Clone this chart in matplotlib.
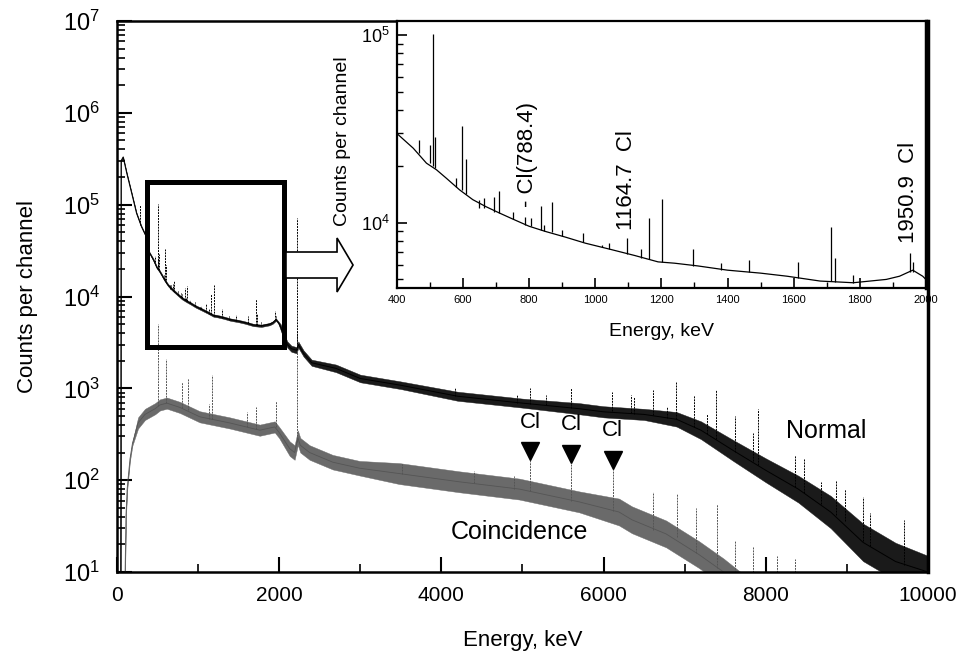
import numpy as np
import matplotlib
matplotlib.use('Agg')
import matplotlib.pyplot as plt
from matplotlib.patches import Rectangle, FancyArrow
from matplotlib.ticker import FixedLocator, LogLocator, NullFormatter

plt.rcParams['font.family'] = ['Liberation Sans', 'DejaVu Sans']
plt.rcParams['mathtext.default'] = 'regular'

# ---- Normal spectrum: continuum (keV, counts/channel) and band spread factor
normal_E = [45, 50, 75, 120, 180, 240, 300, 370, 400,
            450, 490, 520, 550, 590, 630, 670, 710, 750,
            800, 850, 910, 970, 1050, 1120, 1190, 1240, 1310,
            1400, 1500, 1580, 1680, 1780, 1880, 1920, 1960, 1990,
            2020, 2060, 2100, 2150, 2215, 2235, 2300, 2400, 2700,
            3000, 3500, 4200, 5000, 5700, 6000, 6500, 6900, 7200,
            7600, 8000, 8400, 8800, 9200, 9600, 10000]
normal_counts = [10, 3.0e5, 3.3e5, 2.2e5, 1.34e5, 8.1e4, 5.8e4, 4.3e4, 3.0e4,
                 2.5e4, 2.08e4, 1.92e4, 1.73e4, 1.5e4, 1.33e4, 1.22e4, 1.13e4, 1.05e4,
                 9.6e3, 9.0e3, 8.4e3, 7.8e3, 7.2e3, 6.7e3, 6.2e3, 6.1e3, 5.9e3,
                 5.6e3, 5.4e3, 5.2e3, 4.9e3, 4.8e3, 5.0e3, 5.2e3, 5.6e3, 5.2e3,
                 4.6e3, 3.6e3, 3.0e3, 2.7e3, 2.6e3, 3.0e3, 2.4e3, 1.9e3, 1.65e3,
                 1.28e3, 1.08e3, 820, 690, 600, 555, 520, 460, 350,
                 210, 128, 80, 45, 21, 13, 10]
normal_spread = [1.02] * 9 + [1.03] * 27 + [1.08] * 8 + \
                [1.1, 1.1, 1.1, 1.12, 1.12, 1.15, 1.15, 1.15, 1.2, 1.25,
                 1.3, 1.35, 1.4, 1.5, 1.6, 1.6, 1.5]

# Normal spectrum peaks: energy, peak top, continuum under the peak
normal_peak_E = [283, 467, 501, 511, 517, 579, 597, 610, 650, 665, 694, 708,
                 751, 788, 806, 836, 845, 869, 899, 962, 1020, 1041, 1097,
                 1139, 1164, 1201, 1295, 1379, 1464, 1612, 1713, 1725, 1778,
                 1952, 1962, 2223, 4165, 4930, 5092, 5290, 5600, 6105, 6340,
                 6380, 6610, 6780, 6890, 7120, 7270, 7390, 7625, 7840, 7905,
                 8365, 8475, 8680, 8870, 8980, 9198, 9290, 9700]
normal_peak_top = [1.0e5, 2.76e4, 2.6e4, 1.02e5, 2.87e4, 1.73e4, 3.3e4, 2.2e4,
                   1.32e4, 1.35e4, 1.38e4, 1.47e4, 1.15e4, 1.08e4, 1.06e4,
                   1.23e4, 9.8e3, 1.3e4, 9.2e3, 8.8e3, 7.6e3, 7.8e3, 8.3e3,
                   7.3e3, 1.06e4, 1.34e4, 7.3e3, 6.1e3, 6.35e3, 6.2e3, 9.5e3,
                   6.5e3, 5.3e3, 6.9e3, 6.2e3, 7.1e4, 1000, 850, 1000, 850,
                   1000, 910, 850, 800, 960, 630, 1170, 850, 520, 960, 500,
                   330, 600, 190, 175, 96, 100, 80, 65, 44, 37]
normal_peak_base = [6.0e4, 2.35e4, 2.08e4, 2.0e4, 1.95e4, 1.55e4, 1.5e4, 1.42e4,
                    1.2e4, 1.2e4, 1.15e4, 1.13e4, 1.05e4, 9.8e3, 9.6e3,
                    9.2e3, 9.1e3, 8.9e3, 8.5e3, 7.9e3, 7.4e3, 7.3e3, 6.8e3,
                    6.5e3, 6.4e3, 6.2e3, 5.9e3, 5.6e3, 5.45e3, 5.1e3, 4.9e3,
                    4.85e3, 4.8e3, 5.5e3, 5.5e3, 2.6e3, 830, 700, 680, 660,
                    610, 560, 535, 530, 510, 480, 465, 380, 320, 280, 205,
                    160, 145, 85, 72, 55, 42, 36, 22, 19, 12]

# ---- Coincidence spectrum
coinc_E = [100, 110, 125, 135, 160, 190, 260, 345, 470, 530,
           615, 775, 1020, 1390, 1760, 1945, 2000, 2130, 2190, 2230,
           2260, 2375, 2660, 2990, 3480, 4220, 4960, 5700, 6190, 6350,
           6770, 7175, 7480, 7700]
coinc_counts = [10, 40, 80, 100, 170, 250, 420, 520, 600, 660,
                690, 620, 490, 420, 350, 380, 330, 220, 200, 290,
                240, 200, 157, 135, 118, 96, 80, 58, 45, 37,
                26, 15.5, 10, 7]
coinc_spread = [1.05] * 6 + [1.15] * 11 + [1.2] * 7 + [1.3] * 4 + [1.4] * 6

coinc_peak_E = [511, 600, 800, 875, 1130, 1170, 1600, 1720, 1955, 2223, 3520,
                4400, 4900, 5092, 5600, 6111, 6610, 6900, 7140, 7400, 7625,
                7840, 8140, 8365]
coinc_peak_top = [5000, 2100, 1180, 1300, 680, 1400, 550, 630, 730, 4000, 150,
                  125, 110, 166, 153, 135, 74, 70, 50, 55, 22, 19, 15, 14]
coinc_peak_base = [640, 690, 610, 580, 465, 460, 380, 360, 380, 260, 117,
                   92, 81, 76, 60, 46, 29, 24, 16, 11, 8, 8, 8, 8]

cl_E = [5092, 5600, 6111]

fig = plt.figure(figsize=(9.79, 6.64), dpi=100)
ax = fig.add_axes([117 / 979, 92 / 664, 811 / 979, 551 / 664])

ne, nc, ns = np.array(normal_E), np.array(normal_counts), np.array(normal_spread)
ce, cc, cs = np.array(coinc_E), np.array(coinc_counts), np.array(coinc_spread)

ax.fill_between(ce, cc / cs, cc * cs, color='#6a6a6a', lw=0.3)
ax.plot(ce, cc, color='#555555', lw=0.6)
ax.vlines(coinc_peak_E, coinc_peak_base, coinc_peak_top, colors='#555555',
          lw=0.7, linestyles=(0, (2, 1)))

ax.fill_between(ne, nc / ns, nc * ns, color='#1a1a1a', lw=0.3)
ax.plot(ne, nc, color='black', lw=0.7)
ax.vlines(normal_peak_E, normal_peak_base, normal_peak_top, colors='black',
          lw=0.7, linestyles=(0, (2, 1)))

ax.set_xlim(0, 10000)
ax.set_yscale('log')
ax.set_ylim(10, 1e7)
ax.set_xticks(range(0, 10001, 2000))
ax.xaxis.set_minor_locator(FixedLocator([1000, 3000, 5000, 7000, 9000]))
ax.yaxis.set_major_locator(FixedLocator([1e1, 1e2, 1e3, 1e4, 1e5, 1e6, 1e7]))
ax.yaxis.set_minor_locator(LogLocator(base=10, subs=np.arange(2, 10), numticks=20))
ax.yaxis.set_minor_formatter(NullFormatter())
ax.tick_params(which='major', direction='in', length=11, width=1.5, pad=10,
               labelsize=15, top=False, right=False)
ax.tick_params(axis='y', which='major', labelsize=17, pad=12)
ax.tick_params(which='minor', direction='in', length=6, width=1.2,
               top=False, right=False)
for sp in ax.spines.values():
    sp.set_linewidth(1.8)
ax.spines['right'].set_linewidth(2.5)

ax.set_xlabel('Energy, keV', fontsize=16)
ax.xaxis.set_label_coords(0.5, -0.105)
ax.set_ylabel('Counts per channel', fontsize=16)
ax.yaxis.set_label_coords(-0.098, 0.5)

# zoom box and arrow towards the inset
ax.add_patch(Rectangle((369, 2800), 2055 - 369, 1.76e5 - 2800, fill=False,
                       lw=3.6, ec='black', zorder=5))
fig.add_artist(FancyArrow(0.2921, 0.6009, 0.0685, 0, width=26 / 664,
                          head_width=54 / 664, head_length=16 / 979,
                          length_includes_head=True, transform=fig.transFigure,
                          fc='white', ec='black', lw=1.2))

# Cl markers
ax.plot(cl_E, [207, 195, 165], 'v', ms=13, color='black', zorder=6)
for e, yt in zip(cl_E, [428, 408, 351]):
    ax.text(e, yt, 'Cl', ha='center', va='center', fontsize=16)
ax.text(8747, 342, 'Normal', ha='center', va='center', fontsize=18)
ax.text(4960, 27, 'Coincidence', ha='center', va='center', fontsize=18)

# ---- inset
axin = fig.add_axes([396.7 / 979, 376 / 664, 529.3 / 979, 267 / 664])
axin.set_facecolor('white')
axin.plot(ne, nc, color='black', lw=0.9)
axin.vlines(normal_peak_E, normal_peak_base, normal_peak_top, colors='black', lw=0.9)
axin.set_xlim(400, 2000)
axin.set_yscale('log')
axin.set_ylim(4500, 1.19e5)
axin.set_xticks(range(400, 2001, 200))
axin.xaxis.set_minor_locator(FixedLocator(range(500, 2000, 200)))
axin.yaxis.set_major_locator(FixedLocator([1e4, 1e5]))
axin.yaxis.set_minor_locator(LogLocator(base=10, subs=np.arange(2, 10), numticks=20))
axin.yaxis.set_minor_formatter(NullFormatter())
axin.tick_params(which='major', direction='in', length=7, width=1.2, pad=5,
                 labelsize=8, top=False, right=False)
axin.tick_params(axis='y', which='major', labelsize=13)
axin.tick_params(which='minor', direction='in', length=4, width=1.0,
                 top=False, right=False)
for sp in axin.spines.values():
    sp.set_linewidth(1.6)
axin.spines['right'].set_linewidth(2.5)
axin.set_xlabel('Energy, keV', fontsize=14)
axin.xaxis.set_label_coords(0.5, -0.13)
axin.set_ylabel('Counts per channel', fontsize=14)
axin.yaxis.set_label_coords(-0.086, 0.55)

axin.text(794, 1.22e4, '- Cl(788.4)', rotation=90, ha='center', va='bottom', fontsize=16)
axin.text(1095, 9.2e3, '1164.7  Cl', rotation=90, ha='center', va='bottom', fontsize=16)
axin.text(1947, 7.8e3, '1950.9  Cl', rotation=90, ha='center', va='bottom', fontsize=16)

fig.savefig('out.png', dpi=100)
